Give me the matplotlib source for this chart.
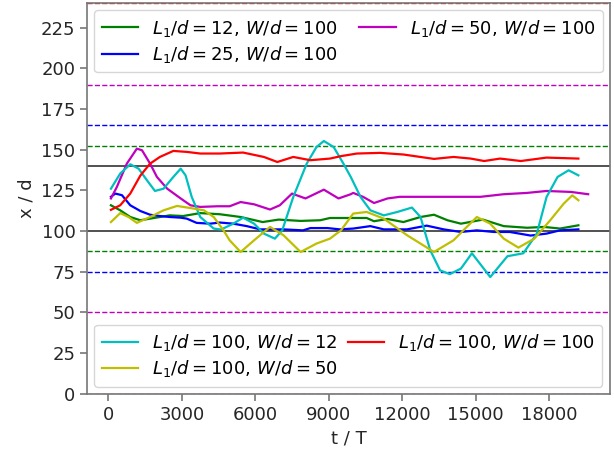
import matplotlib
matplotlib.use("Agg")
import matplotlib.pyplot as plt

# position x/d of the cylinder versus time t/T
t_L12 = [100, 480, 890, 1300, 1700, 2100, 2500, 3050, 3750, 4550, 5400, 6300,
         6950, 7850, 8650, 9050, 9900, 10550, 10850, 11400, 12050, 12750, 13300,
         13850, 14400, 15300, 16150, 17100, 17800, 18450, 19200]
x_L12 = [115.8, 112.7, 108.6, 106.6, 107.6, 108.6, 109.6, 109.2, 111, 110.3, 108.6, 105.5,
         107, 106.2, 106.6, 108, 108, 108, 106, 107.4, 105.5, 108.6, 110,
         106.6, 104.5, 107, 103, 102, 102.5, 101.5, 103.5]

t_L25 = [100, 280, 550, 890, 1300, 1700, 2100, 2500, 2950, 3200, 3600, 4150, 4550,
         5100, 5650, 6200, 7150, 7950, 8250, 8950, 9450, 10000, 10700, 11250, 12200,
         13000, 13700, 14400, 15050, 15750, 16400, 17250, 17900, 18450, 19200]
x_L25 = [121, 123, 122, 115.8, 112.3, 110, 109.2, 108.6, 108.2, 107.6, 105, 104.5, 105.2,
         104.5, 103, 101, 101, 100.4, 101.8, 101.8, 101, 101.5, 103, 101, 101,
         103.3, 101, 99.4, 100.4, 99.4, 99.4, 97.2, 98.4, 100.4, 101]

t_L50 = [100, 340, 750, 1160, 1370, 1700, 1980, 2400, 2950, 3350, 3750, 4450, 4950,
         5400, 5950, 6600, 7000, 7500, 8050, 8800, 9400, 9900, 10000, 10400, 10850,
         11400, 11900, 13000, 14400, 15200, 16150, 17100, 17900, 18900, 19600]
x_L50 = [120, 127, 141.4, 150.6, 149.6, 141.4, 133.2, 126, 120, 115.8, 114.8, 115.2, 115.2,
         117.8, 116.4, 113.2, 115.8, 123, 120, 125.4, 120, 122.6, 123.4, 121, 117.2,
         120, 121, 121, 121, 121, 122.6, 123.4, 124.6, 124, 122.6]

t_W12 = [100, 480, 890, 1230, 1570, 1900, 2250, 2650, 2950, 3150, 3400, 3750, 4300,
         4600, 5100, 5500, 5950, 6350, 6800, 7100, 7550, 8100, 8500, 8800, 9200, 9600,
         9900, 10300, 10700, 11250, 11800, 12400, 12750, 13150, 13550, 13950, 14400,
         14850, 15600, 16300, 16950, 17500, 17900, 18350, 18800, 19200]
x_W12 = [126, 135.3, 141, 138.3, 131.2, 124.6, 126, 133.2, 138.3, 134.2, 121, 108.6, 101.5,
         100.9, 104.5, 108.2, 104.5, 98.4, 95.3, 100.4, 120.9, 141.4, 151.6, 155.3, 151.6, 141.4,
         133.2, 120.9, 112.7, 109.6, 111.7, 114.4, 108.6, 88.1, 75.8, 73.5, 76.9,
         86.3, 71.7, 84.5, 86.3, 98.3, 120.9, 133.2, 137.3, 134.2]

t_W50 = [100, 480, 820, 1160, 1700, 2250, 2800, 3350, 3900, 4300, 4700, 4950, 5400,
         5950, 6600, 7150, 7850, 8500, 9050, 9500, 10000, 10550, 11250, 12200, 13300,
         14100, 14500, 15050, 15600, 16150, 16750, 17400, 18050, 18600, 18950, 19200]
x_W50 = [105.5, 111, 108.6, 105, 108.6, 112.7, 115.4, 114.1, 112.7, 108.6, 100.4, 94.3, 87.1,
         94.3, 102.5, 97.4, 87.1, 92.3, 95.3, 100.4, 110.7, 111.7, 107.6, 97.4, 87.1,
         94.3, 100.4, 108.6, 104.5, 95.3, 89.8, 95.3, 106.6, 116.8, 121.9, 118.9]

t_W100 = [100, 480, 890, 1300, 1700, 2100, 2650, 3200, 3750, 4550, 5500, 6350, 6900,
          7550, 8250, 9050, 9500, 10150, 11100, 12050, 13300, 14100, 14800, 15350,
          16000, 16850, 17900, 19200]
x_W100 = [113, 115.8, 123, 134, 141.4, 145.5, 149.2, 148.6, 147.6, 147.6, 148.2, 145.5, 142.4,
          145.5, 143.5, 144.5, 146, 147.6, 148, 147, 144.3, 145.5, 144.5, 143,
          144.5, 143, 145.1, 144.5]

# reference levels: colour -> (lower, upper)
ref_levels = [("m", 50, 190), ("b", 75, 165), ("g", 88, 152), ("r", 0, 240)]
wall_levels = [100, 140]

fig, ax = plt.subplots(figsize=(6.14, 4.5), dpi=100)
fig.subplots_adjust(left=0.142, right=0.993, top=0.993, bottom=0.125)

for c, lo, hi in ref_levels:
    ax.axhline(lo, color=c, ls="--", lw=1.0)
    ax.axhline(hi, color=c, ls="--", lw=1.0)
for y in wall_levels:
    ax.axhline(y, color="#333333", lw=1.2)

l1, = ax.plot(t_L12, x_L12, "g", lw=1.6, label=r"$L_1/d = 12,\, W/d = 100$")
l2, = ax.plot(t_L25, x_L25, "b", lw=1.6, label=r"$L_1/d = 25,\, W/d = 100$")
l3, = ax.plot(t_L50, x_L50, "m", lw=1.6, label=r"$L_1/d = 50,\, W/d = 100$")
l4, = ax.plot(t_W12, x_W12, "c", lw=1.6, label=r"$L_1/d = 100,\, W/d = 12$")
l5, = ax.plot(t_W50, x_W50, "y", lw=1.6, label=r"$L_1/d = 100,\, W/d = 50$")
l6, = ax.plot(t_W100, x_W100, "r", lw=1.6, label=r"$L_1/d = 100,\, W/d = 100$")

ax.set_ylim(0, 240)
ax.set_xlim(-870, 20480)
ax.set_xticks(range(0, 18001, 3000))
ax.set_yticks(range(0, 226, 25))

ax.set_xlabel("t / T", fontsize=13, color="#262626")
ax.set_ylabel("x / d", fontsize=13, color="#262626")
ax.tick_params(labelsize=13, colors="#262626", length=5, color="#777777", width=1.2)
for s in ax.spines.values():
    s.set_color("#777777")
    s.set_linewidth(1.2)
    s.set_zorder(3)

leg1 = ax.legend(handles=[l1, l2, l3], loc="upper left", ncol=2, fontsize=13,
                 handlelength=2.0, borderaxespad=0.4, labelspacing=0.3, columnspacing=1.2)
ax.add_artist(leg1)
ax.legend(handles=[l4, l5, l6], loc="lower left", ncol=2, fontsize=13,
          handlelength=2.0, borderaxespad=0.4, labelspacing=0.3, columnspacing=0.55)

fig.savefig("out.png")
